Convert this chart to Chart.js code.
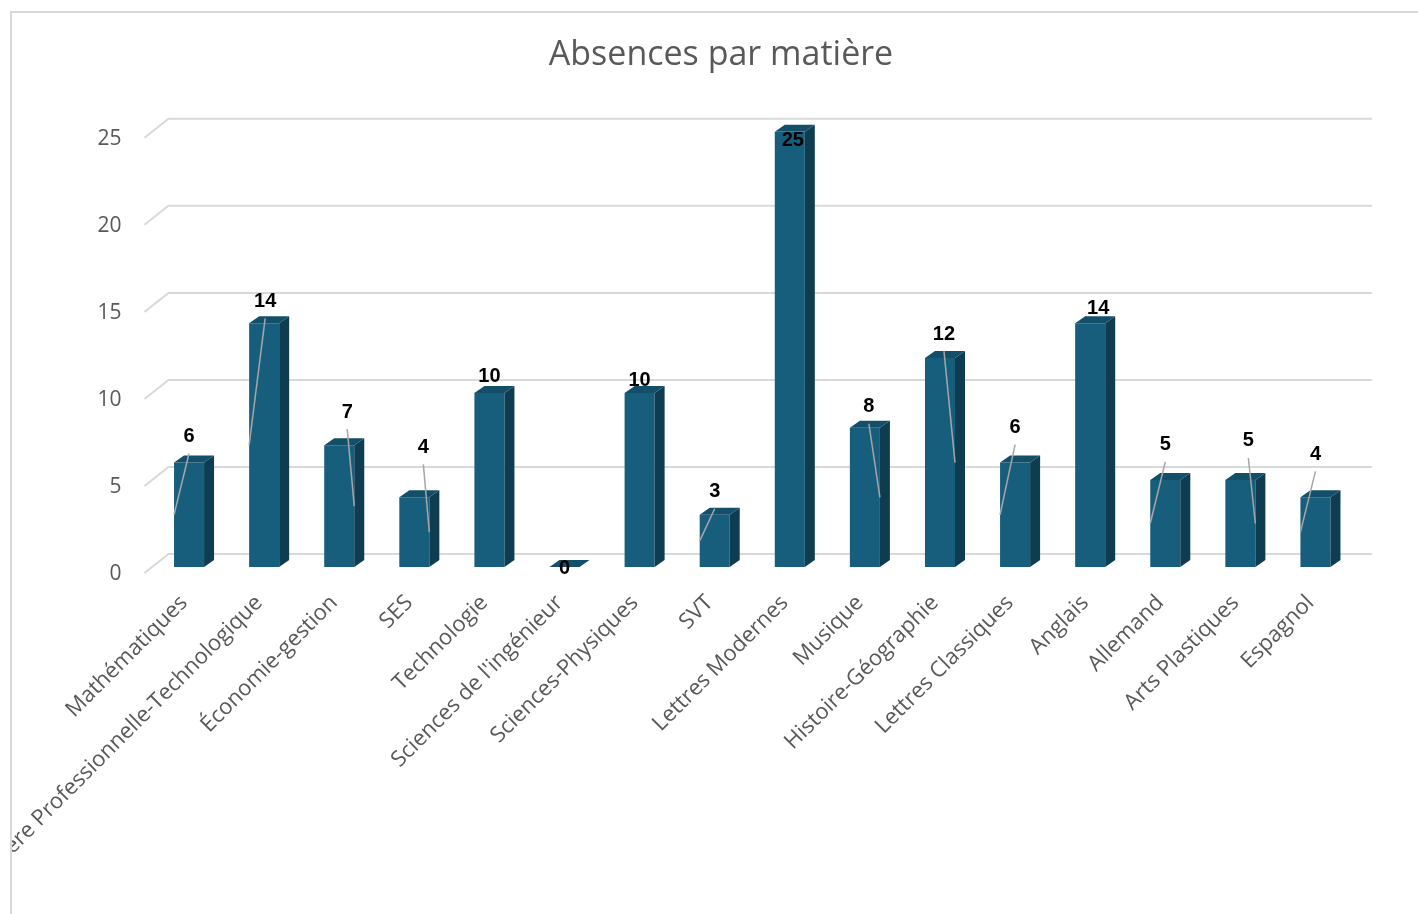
<!DOCTYPE html>
<html>
<head>
<meta charset="utf-8">
<script src="https://cdn.jsdelivr.net/npm/chart.js@4.4.1/dist/chart.umd.min.js"></script>
<style>
  html, body { margin: 0; padding: 0; background: #fff; }
  #wrap { width: 1418px; height: 914px; position: relative; }
</style>
</head>
<body>
<div id="wrap"><canvas id="absChart"></canvas></div>
<script>
// data
const subjects = ['Mathématiques', 'Filière Professionnelle-Technologique', 'Économie-gestion', 'SES',
    'Technologie', "Sciences de l'ingénieur", 'Sciences-Physiques', 'SVT', 'Lettres Modernes',
    'Musique', 'Histoire-Géographie', 'Lettres Classiques', 'Anglais', 'Allemand',
    'Arts Plastiques', 'Espagnol'];
const absences = [6, 14, 7, 4, 10, 0, 10, 3, 25, 8, 12, 6, 14, 5, 5, 4];
const yTicks = [0, 5, 10, 15, 20, 25];

// label placement as Excel left it (px nudges + leader side: -1 left edge, 1 right edge, 0 none)
const labelDx = [0, 1, 8, 9, 0, 0, 0, 0, 3, 4, 4, 0, 8, 0, 8, 0];
const labelDy = [-26, -22, -33, -50, -16, 1, -12, -23, 9, -21, -24, -35, -15, -35, -39, -43];
const leaderSide = [-1, -1, 1, 1, 0, 0, 0, -1, 0, 1, 1, -1, 0, -1, 1, -1];

const FRONT = '#175e7d', SIDE = '#0e3d52', TOP = '#134f69';
const DEPTH_X = 10, DEPTH_Y = 7;

// 3D gridlines (front diagonal + back wall line)
const wallGrid = {
    id: 'wallGrid',
    beforeDatasetsDraw(chart) {
        const { ctx, chartArea, scales: { y } } = chart;
        ctx.save();
        ctx.strokeStyle = '#d9d9d9';
        ctx.lineWidth = 2;
        yTicks.forEach(v => {
            const py = y.getPixelForValue(v);
            ctx.beginPath();
            ctx.moveTo(chartArea.left - 7, py + 6);
            ctx.lineTo(chartArea.left + 17, py - 13);
            ctx.lineTo(chartArea.right + 19, py - 13);
            ctx.stroke();
        });
        ctx.restore();
    }
};

// side + top faces of the bars, then the data labels
const bars3d = {
    id: 'bars3d',
    afterDatasetsDraw(chart) {
        const { ctx, scales: { y } } = chart;
        const meta = chart.getDatasetMeta(0);
        ctx.save();
        meta.data.forEach(bar => {
            const l = bar.x - bar.width / 2, r = bar.x + bar.width / 2;
            ctx.fillStyle = SIDE;
            ctx.beginPath();
            ctx.moveTo(r, bar.y);
            ctx.lineTo(r + DEPTH_X, bar.y - DEPTH_Y);
            ctx.lineTo(r + DEPTH_X, bar.base - DEPTH_Y);
            ctx.lineTo(r, bar.base);
            ctx.closePath();
            ctx.fill();
            ctx.fillStyle = TOP;
            ctx.beginPath();
            ctx.moveTo(l, bar.y);
            ctx.lineTo(r, bar.y);
            ctx.lineTo(r + DEPTH_X, bar.y - DEPTH_Y);
            ctx.lineTo(l + DEPTH_X, bar.y - DEPTH_Y);
            ctx.closePath();
            ctx.fill();
        });
        // leader lines
        ctx.strokeStyle = '#a6a6a6';
        ctx.lineWidth = 1.5;
        meta.data.forEach((bar, i) => {
            if (!leaderSide[i]) return;
            const lx = bar.x + labelDx[i], ly = bar.y + labelDy[i];
            ctx.beginPath();
            ctx.moveTo(lx, ly + 17);
            ctx.lineTo(bar.x + leaderSide[i] * bar.width / 2, y.getPixelForValue(absences[i] / 2));
            ctx.stroke();
        });
        ctx.fillStyle = '#000';
        ctx.font = 'bold 20px "Liberation Sans", Arial, sans-serif';
        ctx.textAlign = 'center';
        ctx.textBaseline = 'middle';
        meta.data.forEach((bar, i) => {
            ctx.fillText(String(absences[i]), bar.x + labelDx[i], bar.y + labelDy[i]);
        });
        ctx.restore();
    },
    afterDraw(chart) {
        const { ctx } = chart;
        ctx.save();
        ctx.fillStyle = '#fff';
        ctx.fillRect(0, 0, 10, chart.height);
        ctx.strokeStyle = '#d9d9d9';
        ctx.lineWidth = 2;
        ctx.beginPath();
        ctx.moveTo(11, chart.height);
        ctx.lineTo(11, 12);
        ctx.lineTo(chart.width, 12);
        ctx.stroke();
        ctx.restore();
    }
};

new Chart(document.getElementById('absChart').getContext('2d'), {
    type: 'bar',
    data: {
        labels: subjects,
        datasets: [{
            label: 'Absences',
            data: absences,
            backgroundColor: FRONT,
            categoryPercentage: 1,
            barPercentage: 0.4
        }]
    },
    options: {
        responsive: true,
        maintainAspectRatio: false,
        animation: false,
        layout: { padding: { left: 89, right: 65, top: 0, bottom: 0 } },
        plugins: {
            legend: { display: false },
            tooltip: { enabled: false },
            title: {
                display: true,
                text: 'Absences par matière',
                color: '#595959',
                font: { family: '"Open Sans", sans-serif', size: 34, weight: 'normal' },
                padding: { top: 35, bottom: 56 }
            }
        },
        scales: {
            x: {
                grid: { display: false, drawTicks: false },
                border: { display: false },
                ticks: {
                    color: '#595959',
                    font: { family: '"Open Sans", sans-serif', size: 22 },
                    maxRotation: 45,
                    minRotation: 45,
                    autoSkip: false,
                    padding: 23,
                    labelOffset: -5
                },
                afterFit(s) { s.height = 347; s.paddingLeft = 0; s.paddingRight = 0; }
            },
            y: {
                min: 0,
                max: 25,
                grid: { display: false, drawTicks: false },
                border: { display: false },
                ticks: {
                    stepSize: 5,
                    color: '#595959',
                    font: { family: '"Open Sans", sans-serif', size: 21 },
                    padding: 30,
                    labelOffset: 7
                },
                afterFit(s) { s.width = 62.5; }
            }
        }
    },
    plugins: [wallGrid, bars3d]
});
</script>
</body>
</html>
